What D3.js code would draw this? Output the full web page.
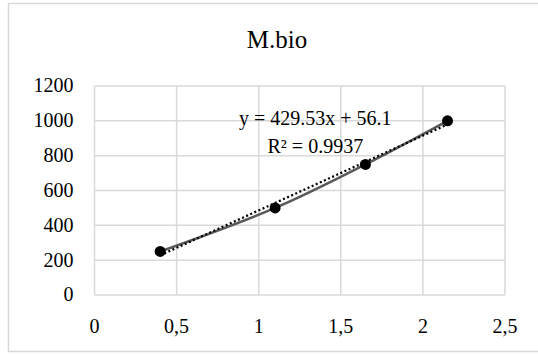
<!DOCTYPE html>
<html>
<head>
<meta charset="utf-8">
<script src="https://cdn.jsdelivr.net/npm/d3@7"></script>
</head>
<body style="margin:0">
<div id="wrap"></div>
<script>
// data
const xValues = [0.4, 1.1, 1.65, 2.15];
const yValues = [250, 500, 750, 1000];
const xTicks = [0, 0.5, 1, 1.5, 2, 2.5];
const yTicks = [0, 200, 400, 600, 800, 1000, 1200];
const title = "M.bio";
const slope = 429.53;
const intercept = 56.1;
const eqLines = ["y = 429.53x + 56.1", "R\u00b2 = 0.9937"];

const svg = d3.select("#wrap").append("svg")
  .attr("width", 538).attr("height", 354);
svg.append("style").text("text { font-family: 'Liberation Serif'; fill: #000; }");

const plot = { left: 94.5, right: 505, top: 86, bottom: 295 };

const x = d3.scaleLinear().domain([0, 2.5]).range([plot.left, plot.right]);
const y = d3.scaleLinear().domain([0, 1200]).range([plot.bottom, plot.top]);

// outer chart border
svg.append("rect")
  .attr("x", 8.5).attr("y", 3.5)
  .attr("width", 545).attr("height", 348)
  .attr("fill", "none")
  .attr("stroke", "#d9d9d9")
  .attr("stroke-width", 1.5);

// title
svg.append("text")
  .attr("x", 277).attr("y", 48)
  .attr("text-anchor", "middle")
  .style("font-size", "25px")
  .text(title);

// gridlines
const grid = svg.append("g").attr("stroke", "#d9d9d9").attr("stroke-width", 1.5);
grid.selectAll(".hy").data(yTicks).enter().append("line")
  .attr("x1", plot.left).attr("x2", plot.right)
  .attr("y1", d => y(d)).attr("y2", d => y(d));
grid.selectAll(".vx").data(xTicks).enter().append("line")
  .attr("y1", plot.top).attr("y2", plot.bottom)
  .attr("x1", d => x(d)).attr("x2", d => x(d));

// y tick labels
svg.append("g").selectAll("text").data(yTicks).enter().append("text")
  .attr("x", plot.left - 21)
  .attr("y", d => y(d))
  .attr("dy", "0.32em")
  .attr("text-anchor", "end")
  .style("font-size", "20px")
  .text(d => d);

// x tick labels
svg.append("g").selectAll("text").data(xTicks).enter().append("text")
  .attr("x", d => x(d))
  .attr("y", plot.bottom + 38)
  .attr("text-anchor", "middle")
  .style("font-size", "20px")
  .text(d => String(d).replace(".", ","));

const pts = xValues.map((v, i) => [v, yValues[i]]);

// smooth series line
svg.append("path")
  .datum(pts)
  .attr("fill", "none")
  .attr("stroke", "#595959")
  .attr("stroke-width", 2.5)
  .attr("d", d3.line().x(d => x(d[0])).y(d => y(d[1])).curve(d3.curveCatmullRom));

// linear trendline
const tx = d3.extent(xValues);
svg.append("path")
  .datum(tx.map(v => [v, slope * v + intercept]))
  .attr("fill", "none")
  .attr("stroke", "#000")
  .attr("stroke-width", 2.25)
  .attr("stroke-dasharray", "2,2.5")
  .attr("d", d3.line().x(d => x(d[0])).y(d => y(d[1])));

// markers
svg.selectAll(".pt").data(pts).enter().append("circle")
  .attr("cx", d => x(d[0])).attr("cy", d => y(d[1]))
  .attr("r", 5.5)
  .attr("fill", "#000");

// equation label
svg.append("g").selectAll("text").data(eqLines).enter().append("text")
  .attr("x", x(1.345))
  .attr("y", (d, i) => 125 + i * 28)
  .attr("text-anchor", "middle")
  .style("font-size", "20px")
  .text(d => d);
</script>
</body>
</html>
